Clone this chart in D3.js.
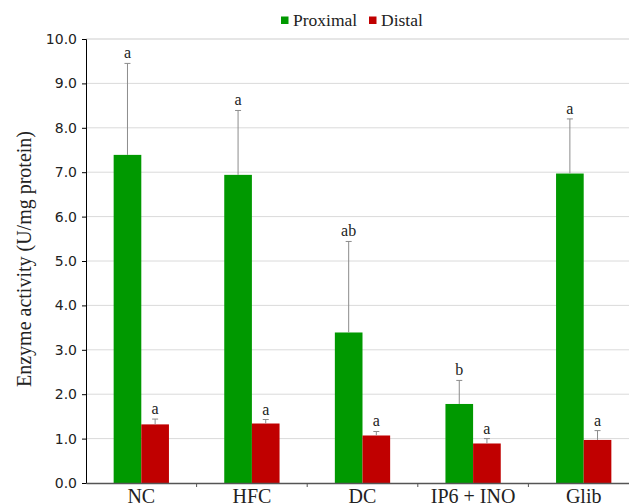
<!DOCTYPE html>
<html>
<head>
<meta charset="utf-8">
<script src="https://cdn.jsdelivr.net/npm/d3@7"></script>
<style>
  body { margin: 0; background: #fff; }
  svg { display: block; }
</style>
</head>
<body>
<svg id="chart" width="629" height="503"></svg>
<script>
// data
const groups = ["NC", "HFC", "DC", "IP6 + INO", "Glib"];
const proximal = [7.39, 6.94, 3.39, 1.78, 6.97];
const proximalErr = [2.06, 1.45, 2.05, 0.53, 1.23];
const proximalLetters = ["a", "a", "ab", "b", "a"];
const distal = [1.32, 1.34, 1.07, 0.89, 0.97];
const distalErr = [0.12, 0.09, 0.09, 0.11, 0.21];
const distalLetters = ["a", "a", "a", "a", "a"];
const yTicks = [0, 1, 2, 3, 4, 5, 6, 7, 8, 9, 10];

const series = [
  { name: "Proximal", values: proximal, err: proximalErr, letters: proximalLetters, color: "#009900" },
  { name: "Distal", values: distal, err: distalErr, letters: distalLetters, color: "#c00000" }
];

const svg = d3.select("#chart");
const margin = { top: 39, left: 86 };
const plotW = 553, plotH = 444;

const g = svg.append("g").attr("transform", `translate(${margin.left},${margin.top})`);

const x = d3.scaleBand().domain(groups).range([0, plotW]).paddingInner(0).paddingOuter(0);
const xIn = d3.scaleBand().domain(series.map(s => s.name))
  .range([x.bandwidth() * 0.25, x.bandwidth() * 0.75]);
const y = d3.scaleLinear().domain([0, 10]).range([plotH, 0]);

// gridlines
g.append("g")
  .selectAll("line")
  .data(yTicks.slice(1))
  .enter()
  .append("line")
  .attr("x1", 0).attr("x2", plotW)
  .attr("y1", d => y(d)).attr("y2", d => y(d))
  .attr("stroke", d => d === 10 ? "#e6e6e6" : "#dadada")
  .attr("stroke-width", d => d === 10 ? 2 : 1);

// bars
const grp = g.selectAll(".grp")
  .data(groups)
  .enter()
  .append("g")
  .attr("transform", d => `translate(${x(d)},0)`);

series.forEach(s => {
  grp.append("rect")
    .attr("x", xIn(s.name))
    .attr("width", xIn.bandwidth())
    .attr("y", (d, i) => y(s.values[i]))
    .attr("height", (d, i) => plotH - y(s.values[i]))
    .attr("fill", s.color);

  const cx = xIn(s.name) + xIn.bandwidth() / 2;
  grp.append("line")
    .attr("x1", cx).attr("x2", cx)
    .attr("y1", (d, i) => y(s.values[i]))
    .attr("y2", (d, i) => y(s.values[i] + s.err[i]))
    .attr("stroke", "#8c8c8c").attr("stroke-width", 1);
  grp.append("line")
    .attr("x1", cx - 3).attr("x2", cx + 3)
    .attr("y1", (d, i) => y(s.values[i] + s.err[i]))
    .attr("y2", (d, i) => y(s.values[i] + s.err[i]))
    .attr("stroke", "#8c8c8c").attr("stroke-width", 1);
  grp.append("text")
    .attr("x", cx)
    .attr("y", (d, i) => y(s.values[i] + s.err[i]) - 5)
    .attr("text-anchor", "middle")
    .attr("font-family", "Liberation Serif, serif")
    .attr("font-size", "16px")
    .attr("fill", "#222")
    .text((d, i) => s.letters[i]);
});

// y axis
const yAxis = g.append("g")
  .call(d3.axisLeft(y).tickValues(yTicks).tickFormat(d3.format(".1f")).tickSize(4).tickPadding(5));
yAxis.select(".domain").attr("stroke", "#000");
yAxis.selectAll(".tick line").attr("stroke", "#000");
yAxis.selectAll("text")
  .attr("font-family", "DejaVu Sans, sans-serif")
  .attr("font-size", "14px")
  .attr("fill", "#222");

// x axis
const xAxis = g.append("g")
  .attr("transform", `translate(0,${plotH})`)
  .call(d3.axisBottom(x).tickSize(0).tickPadding(6));
xAxis.select(".domain").attr("stroke", "#555").attr("stroke-width", 1.5);
xAxis.selectAll("text")
  .attr("font-family", "Liberation Serif, serif")
  .attr("font-size", "20px")
  .attr("fill", "#222");
xAxis.selectAll(".sep")
  .data(groups.slice(1))
  .enter()
  .append("line")
  .attr("x1", d => x(d)).attr("x2", d => x(d))
  .attr("y1", 0).attr("y2", 4)
  .attr("stroke", "#555");

// y title
svg.append("text")
  .attr("transform", `translate(31,259) rotate(-90)`)
  .attr("text-anchor", "middle")
  .attr("font-family", "Liberation Serif, serif")
  .attr("font-size", "20px")
  .attr("fill", "#222")
  .text("Enzyme activity (U/mg protein)");

// legend
const legend = svg.append("g");
const legendX = [281, 369];
series.forEach((s, i) => {
  legend.append("rect")
    .attr("x", legendX[i]).attr("y", 16.5)
    .attr("width", 7.5).attr("height", 7.5)
    .attr("fill", s.color);
  legend.append("text")
    .attr("x", legendX[i] + 12).attr("y", 26)
    .attr("font-family", "Liberation Serif, serif")
    .attr("font-size", "17.5px")
    .attr("fill", "#222")
    .text(s.name);
});
</script>
</body>
</html>
